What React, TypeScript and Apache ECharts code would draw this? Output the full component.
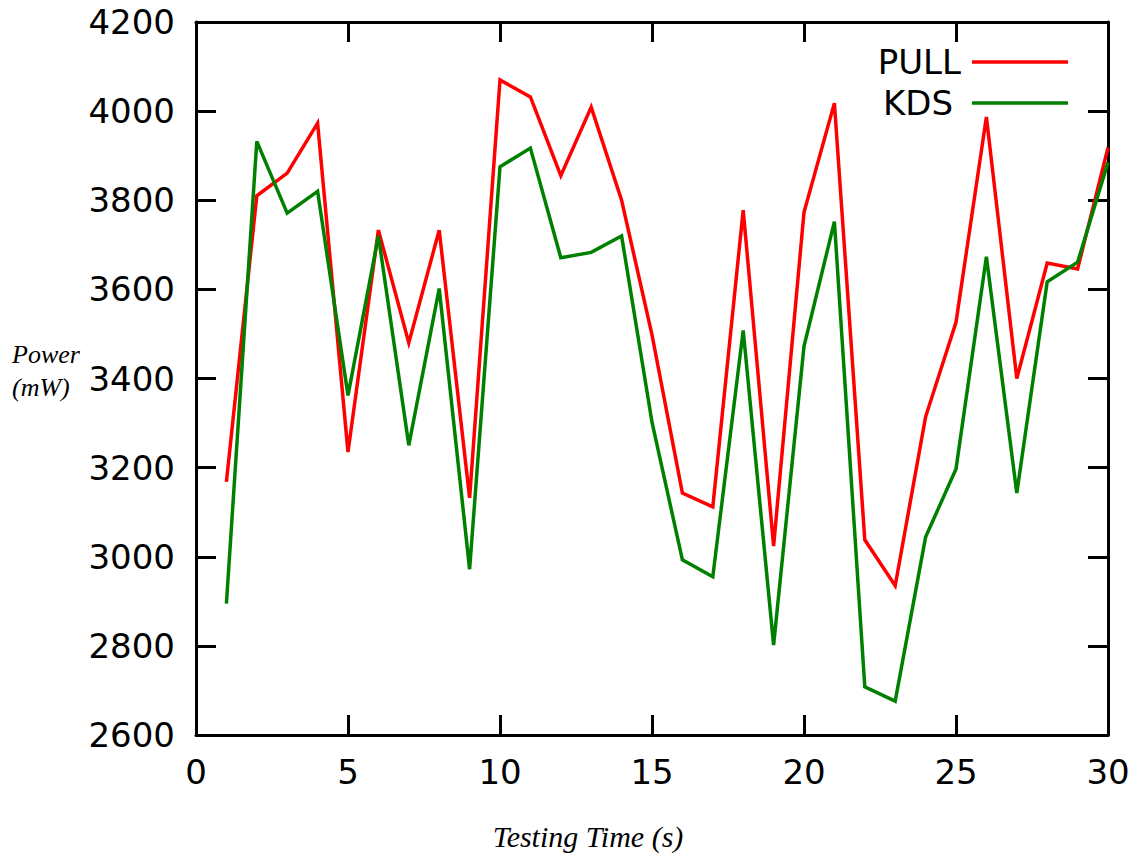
import React, { useEffect, useRef } from "react";
import * as echarts from "echarts";

// Sampling instants (s)
const times: number[] = Array.from({ length: 30 }, (_, i) => i + 1);

// Measured power draw (mW)
const pullPower: number[] = [
  3168, 3810, 3861, 3973, 3235, 3733, 3480, 3733, 3132, 4070,
  4032, 3855, 4009, 3800, 3498, 3143, 3112, 3778, 3024, 3773,
  4018, 3038, 2935, 3314, 3526, 3987, 3400, 3659, 3646, 3918,
];
const kdsPower: number[] = [
  2895, 3932, 3771, 3820, 3362, 3720, 3250, 3602, 2972, 3875,
  3917, 3671, 3683, 3720, 3302, 2993, 2955, 3508, 2802, 3472,
  3752, 2708, 2676, 3044, 3197, 3673, 3143, 3617, 3661, 3885,
];

const seriesNames = ["PULL", "KDS"];
const seriesColors = ["#ff0000", "#008000"];

const xTitle = "Testing Time (s)";
const yTitleLines = ["Power", "(mW)"];

const LABEL_FONT = "'DejaVu Sans', sans-serif";
const TITLE_FONT = "'Liberation Serif', 'DejaVu Serif', serif";

export default function App() {
  const ref = useRef<HTMLDivElement>(null);

  useEffect(() => {
    if (!ref.current) return;
    const chart = echarts.init(ref.current, undefined, { renderer: "svg" });

    const axisCommon = {
      axisLine: { show: true, onZero: false, lineStyle: { color: "#000", width: 3 } },
      axisTick: { show: true, inside: true, length: 20, lineStyle: { color: "#000", width: 3 } },
      splitLine: { show: false },
    };

    const xBase = { type: "value" as const, min: 0, max: 30, interval: 5 };
    const yBase = { type: "value" as const, min: 2600, max: 4200, interval: 200 };

    const plain = (v: number) => String(v);

    const lineSeries = (name: string, values: number[], color: string) => ({
      name,
      type: "line" as const,
      data: times.map((t, i) => [t, values[i]]),
      showSymbol: false,
      symbol: "none",
      color,
      lineStyle: { color, width: 3.5, join: "miter", miterLimit: 10, cap: "butt" },
      xAxisIndex: 0,
      yAxisIndex: 0,
    });

    const legendFor = (name: string, top: number, padRight: number) => ({
      data: [name],
      orient: "vertical" as const,
      align: "right" as const,
      right: 67,
      top,
      padding: 0,
      icon: "rect",
      itemWidth: 96,
      itemHeight: 3.5,
      textStyle: {
        fontFamily: LABEL_FONT,
        fontSize: 34,
        lineHeight: 34,
        color: "#000",
        padding: [0, padRight, 0, 0],
      },
      selectedMode: false,
    });

    chart.setOption({
      animation: false,
      backgroundColor: "#fff",
      grid: { left: 196, right: 27, top: 22, bottom: 121, containLabel: false },
      xAxis: [
        {
          ...xBase,
          ...axisCommon,
          position: "bottom",
          axisLabel: {
            show: true,
            margin: 20,
            fontFamily: LABEL_FONT,
            fontSize: 34,
            color: "#000",
            formatter: plain,
          },
        },
        { ...xBase, ...axisCommon, position: "top", axisLabel: { show: false } },
      ],
      yAxis: [
        {
          ...yBase,
          ...axisCommon,
          position: "left",
          axisLabel: {
            show: true,
            margin: 21,
            fontFamily: LABEL_FONT,
            fontSize: 34,
            color: "#000",
            formatter: plain,
          },
        },
        { ...yBase, ...axisCommon, position: "right", axisLabel: { show: false } },
      ],
      legend: [
        legendFor(seriesNames[0], 45, 6),
        legendFor(seriesNames[1], 86, 14),
      ],
      series: [
        lineSeries(seriesNames[0], pullPower, seriesColors[0]),
        lineSeries(seriesNames[1], kdsPower, seriesColors[1]),
      ],
      graphic: [
        {
          type: "text",
          left: 12,
          top: 338,
          style: {
            text: yTitleLines.join("\n"),
            font: `italic 26px ${TITLE_FONT}`,
            lineHeight: 33,
            fill: "#000",
            textAlign: "left",
          },
        },
        {
          type: "text",
          x: 588,
          y: 836,
          style: {
            text: xTitle,
            font: `italic 30px ${TITLE_FONT}`,
            fill: "#000",
            textAlign: "center",
            textVerticalAlign: "middle",
          },
        },
      ],
    });

    return () => chart.dispose();
  }, []);

  return (
    <div
      ref={ref}
      style={{ position: "fixed", left: 0, top: 0, width: 1135, height: 856, background: "#fff" }}
    />
  );
}
